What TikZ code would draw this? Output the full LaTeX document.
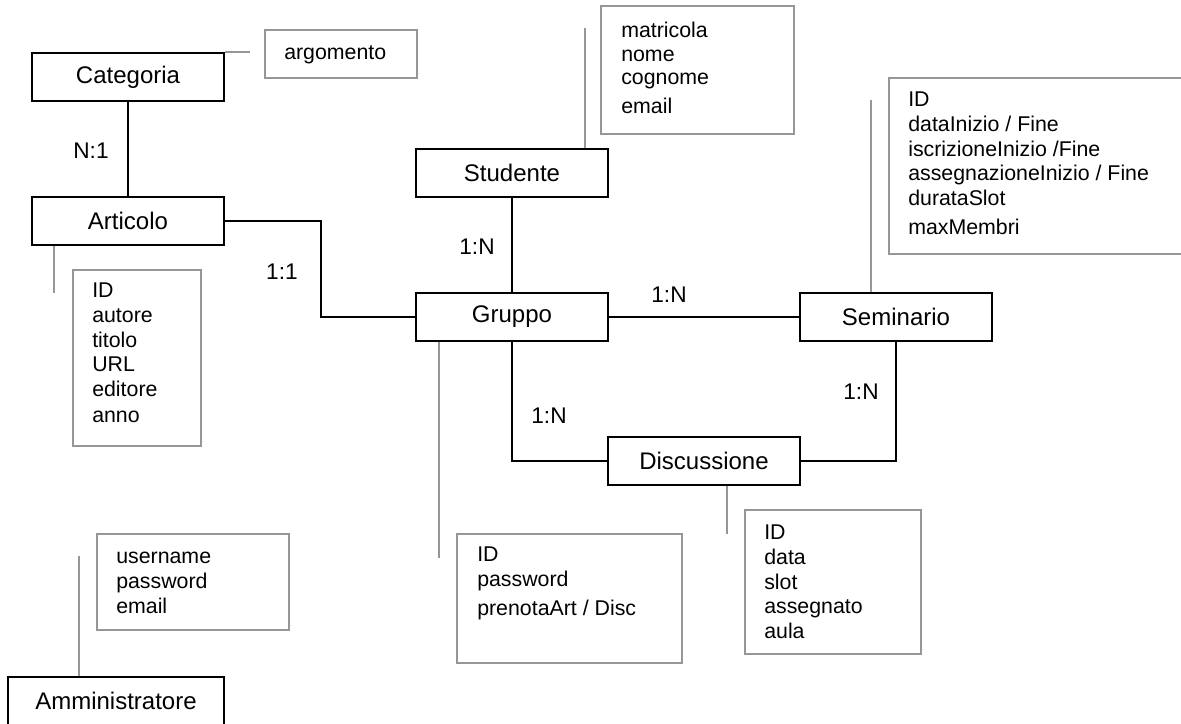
\documentclass[tikz,border=0pt]{standalone}
\usepackage{fontspec}
\setmainfont{Liberation Sans}
\definecolor{attrgray}{RGB}{150,150,150}

\begin{document}
\begin{tikzpicture}[
  entity/.style={draw,line width=1.3pt,minimum width=144pt,minimum height=36pt,inner sep=0pt,
    font=\fontsize{18}{21}\selectfont},
  attrbox/.style={draw=attrgray,line width=1.2pt,anchor=north west,inner sep=0pt},
  attrtext/.style={anchor=north west,align=left,inner sep=0pt,font=\fontsize{16}{18.5}\selectfont},
  attrline/.style={attrgray,line width=1pt},
  rel/.style={line width=1.3pt},
  card/.style={font=\fontsize{17}{20}\selectfont,inner sep=0pt},
  x=0.75pt,y=-0.75pt
]
  \clip (0,0) rectangle (1181,724);

  \node[entity] (cat) at (128,77) {Categoria};
  \node[entity] (art) at (128,221) {Articolo};
  \node[entity] (stud) at (512,173) {Studente};
  \node[entity] (grp) at (512,317) {Gruppo};
  \node[entity] (sem) at (896,317) {Seminario};
  \node[entity] (disc) at (704,461) {Discussione};
  \node[entity,minimum width=162pt] (admin) at (116,701) {Amministratore};

  \node[attrbox,minimum width=114pt,minimum height=36pt] (catBox) at (264,29) {};
  \node[attrtext] (catText) at ([shift={(20,16)}]catBox.north west) {argomento};
  \node[attrbox,minimum width=96pt,minimum height=132pt] (artBox) at (72,269) {};
  \node[attrtext] (artText) at ([shift={(20,14)}]artBox.north west)
    {ID\\autore\\titolo\\URL\\editore\\[1pt]anno};
  \node[attrbox,minimum width=144.75pt,minimum height=96pt] (studBox) at (600,5) {};
  \node[attrtext,font=\fontsize{16}{17.5}\selectfont] (studText) at ([shift={(21,17)}]studBox.north west)
    {matricola\\nome\\cognome\\[4pt]email};
  \node[attrbox,minimum width=240pt,minimum height=132pt] (semBox) at (888,77) {};
  \node[attrtext] (semText) at ([shift={(20,15)}]semBox.north west)
    {ID\\dataInizio / Fine\\iscrizioneInizio /Fine\\assegnazioneInizio / Fine\\durataSlot\\[3pt]maxMembri};
  \node[attrbox,minimum width=168.75pt,minimum height=96.75pt] (grpBox) at (456,533) {};
  \node[attrtext] (grpText) at ([shift={(21,14)}]grpBox.north west)
    {ID\\password\\[3pt]prenotaArt / Disc};
  \node[attrbox,minimum width=132pt,minimum height=108pt] (discBox) at (744,509) {};
  \node[attrtext] (discText) at ([shift={(20,16)}]discBox.north west)
    {ID\\data\\slot\\assegnato\\aula};
  \node[attrbox,minimum width=144pt,minimum height=72pt] (adminBox) at (96,533) {};
  \node[attrtext] (adminText) at ([shift={(20,19)}]adminBox.north west)
    {username\\password\\email};

  \draw[rel] (cat.south) -- (art.north);
  \draw[rel] (art.east) -- ++(96,0) |- (grp.west);
  \draw[rel] (stud.south) -- (grp.north);
  \draw[rel] (grp.east) -- (sem.west);
  \draw[rel] (grp.south) |- (disc.west);
  \draw[rel] (sem.south) |- (disc.east);

  \draw[attrline] (cat.north east) -- ++(25,0);
  \draw[attrline] ([xshift=23*0.75pt]art.south west) -- ++(0,47);
  \draw[attrline] ([xshift=-24*0.75pt]stud.north east) -- ++(0,-120);
  \draw[attrline] ([xshift=72*0.75pt]sem.north west) -- ++(0,-192);
  \draw[attrline] ([xshift=24*0.75pt]grp.south west) -- ++(0,216);
  \draw[attrline] ([xshift=120*0.75pt]disc.south west) -- ++(0,48);
  \draw[attrline] ([xshift=72*0.75pt]admin.north west) -- ++(0,-120);

  \node[card] (cardCatArt) at (91,151) {N:1};
  \node[card] (cardArtGrp) at (282,272) {1:1};
  \node[card] (cardStudGrp) at (477,247) {1:N};
  \node[card] (cardGrpSem) at (669,295) {1:N};
  \node[card] (cardGrpDisc) at (549,416) {1:N};
  \node[card] (cardSemDisc) at (861,392) {1:N};
\end{tikzpicture}
\end{document}
